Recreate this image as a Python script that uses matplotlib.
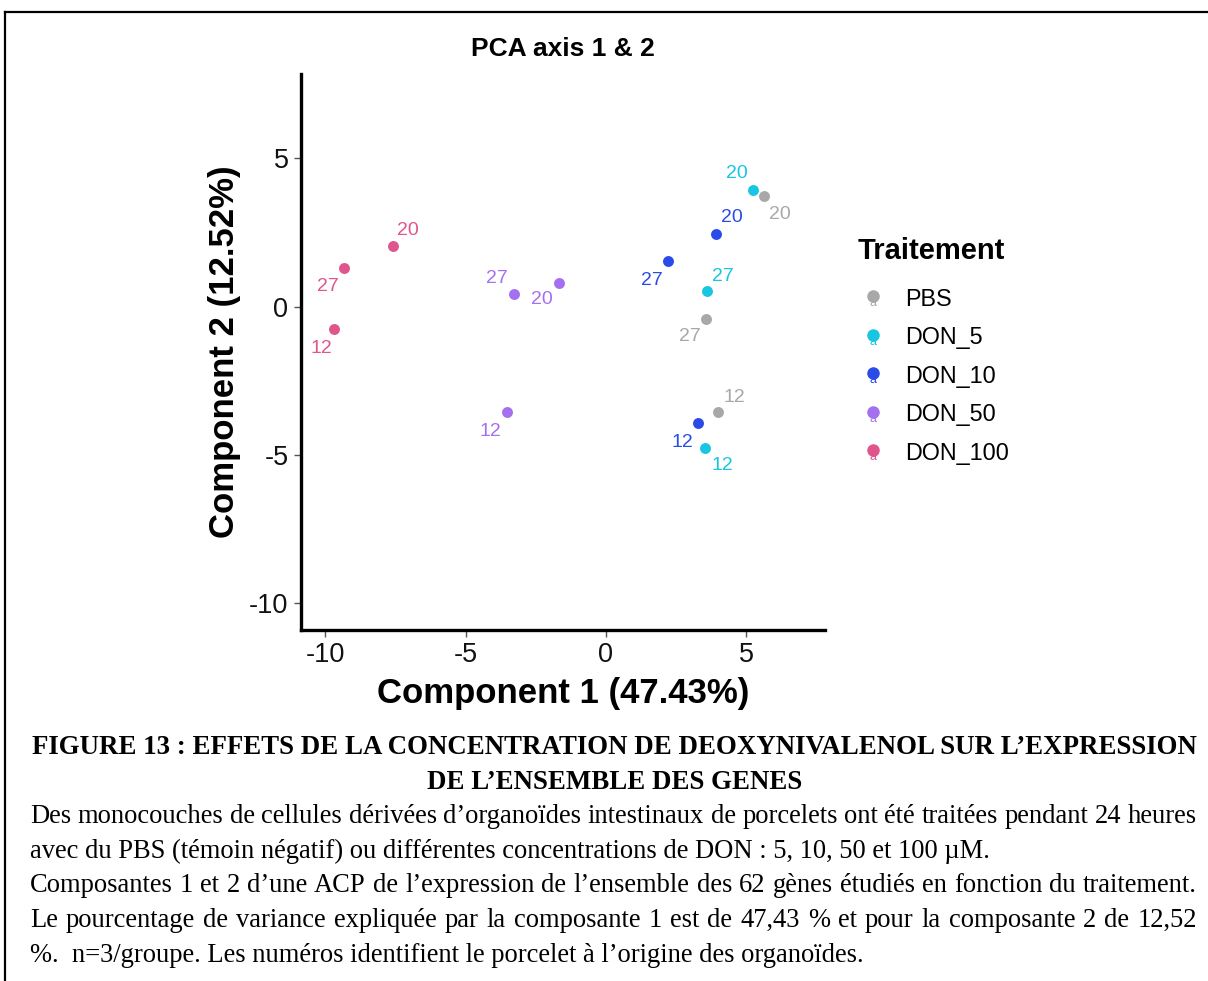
import matplotlib
matplotlib.use("Agg")
import matplotlib.pyplot as plt
from matplotlib.lines import Line2D
from matplotlib.text import Text
from matplotlib.legend_handler import HandlerBase

# ---------------- data ----------------
groups = ["PBS", "DON_5", "DON_10", "DON_50", "DON_100"]
piglets = ["12", "20", "27"]
pc1_pbs = [3.99, 5.62, 3.55]
pc2_pbs = [-3.56, 3.73, -0.41]
pc1_don5 = [3.53, 5.23, 3.60]
pc2_don5 = [-4.75, 3.94, 0.52]
pc1_don10 = [3.30, 3.91, 2.21]
pc2_don10 = [-3.93, 2.46, 1.53]
pc1_don50 = [-3.53, -1.69, -3.28]
pc2_don50 = [-3.56, 0.80, 0.44]
pc1_don100 = [-9.69, -7.58, -9.33]
pc2_don100 = [-0.76, 2.05, 1.30]
x_ticks = [-10, -5, 0, 5]
y_ticks = [-10, -5, 0, 5]

title = "PCA axis 1 & 2"
xlabel = "Component 1 (47.43%)"
ylabel = "Component 2 (12.52%)"
legend_title = "Traitement"

caption_head = ["FIGURE 13 : EFFETS DE LA CONCENTRATION DE DEOXYNIVALENOL SUR L\u2019EXPRESSION",
                "DE L\u2019ENSEMBLE DES GENES"]
caption_body = [
    ("Des monocouches de cellules d\u00e9riv\u00e9es d\u2019organo\u00efdes intestinaux de porcelets ont \u00e9t\u00e9 trait\u00e9es pendant 24 heures", True),
    ("avec du PBS (t\u00e9moin n\u00e9gatif) ou diff\u00e9rentes concentrations de DON : 5, 10, 50 et 100 \u00b5M.", False),
    ("Composantes 1 et 2 d\u2019une ACP de l\u2019expression de l\u2019ensemble des 62 g\u00e8nes \u00e9tudi\u00e9s en fonction du traitement.", True),
    ("Le pourcentage de variance expliqu\u00e9e par la composante 1 est de 47,43 % et pour la composante 2 de 12,52", True),
    ("%.  n=3/groupe. Les num\u00e9ros identifient le porcelet \u00e0 l\u2019origine des organo\u00efdes.", False),
]

series = {
    "PBS": (pc1_pbs, pc2_pbs),
    "DON_5": (pc1_don5, pc2_don5),
    "DON_10": (pc1_don10, pc2_don10),
    "DON_50": (pc1_don50, pc2_don50),
    "DON_100": (pc1_don100, pc2_don100),
}

# ---------------- style ----------------
colors = {"PBS": "#A8A8A8", "DON_5": "#18C6E2", "DON_10": "#2A4BE8",
          "DON_50": "#A470F0", "DON_100": "#E0558C"}
# label offsets in pixels (dx right, dy down) per group, per piglet (12, 20, 27)
label_off = {
    "PBS": [(17, -15), (16, 19), (-16, 18)],
    "DON_5": [(17, 18), (-16, -16), (16, -15)],
    "DON_10": [(-16, 19), (16, -16), (-16, 19)],
    "DON_50": [(-17, 19), (-17, 17), (-17, -15)],
    "DON_100": [(-13, 19), (15, -15), (-16, 18)],
}

W, H = 1208, 981
plt.rcParams["font.family"] = ["Liberation Sans", "DejaVu Sans"]
fig = plt.figure(figsize=(W / 100, H / 100), dpi=100)
fig.patch.set_facecolor("white")

ax = fig.add_axes([301 / W, 1 - 630 / H, (825 - 301) / W, (630 - 74) / H])
ax.set_xlim(-10.87, 7.81)
ax.set_ylim(-10.9, 7.84)

for g in groups:
    xs, ys = series[g]
    ax.scatter(xs, ys, s=62, color=colors[g], zorder=3, linewidths=0)
    for x, y, p, (dx, dy) in zip(xs, ys, piglets, label_off[g]):
        ax.annotate(p, (x, y), xytext=(dx * 0.72, -dy * 0.72), textcoords="offset points",
                    ha="center", va="center", fontsize=14, color=colors[g])

for s in ["top", "right"]:
    ax.spines[s].set_visible(False)
for s in ["left", "bottom"]:
    ax.spines[s].set_linewidth(2.4)
    ax.spines[s].set_color("black")
ax.set_xticks(x_ticks)
ax.set_yticks(y_ticks)
ax.set_xticklabels([str(v) for v in x_ticks])
ax.set_yticklabels([str(v) for v in y_ticks])
ax.tick_params(direction="out", length=5, width=1, color="#555555", labelsize=19.5,
               labelcolor="#111111", pad=4)
ax.set_xlabel(xlabel, fontsize=25, fontweight="bold", labelpad=6)
ax.set_ylabel(ylabel, fontsize=25, fontweight="bold", labelpad=6)
ax.set_title(title, fontsize=19, fontweight="bold", pad=13)


class HandlerDotA(HandlerBase):
    def create_artists(self, legend, orig_handle, xdescent, ydescent, width, height,
                       fontsize, trans):
        cx = width / 2 - xdescent
        cy = height / 2 - ydescent
        c = orig_handle.get_color()
        txt = Text(cx, cy - 4, "a", color=c, fontsize=9, ha="center", va="center",
                   transform=trans)
        dot = Line2D([cx], [cy + 1], marker="o", color=c, markersize=8,
                     linestyle="none", transform=trans)
        return [txt, dot]


fig.text(858 / W, 1 - 251 / H, legend_title, fontsize=21, fontweight="bold",
         ha="left", va="center")
handles = [Line2D([], [], color=colors[g]) for g in groups]
leg = fig.legend(handles, groups, loc="upper left",
                 bbox_to_anchor=(857 / W, 1 - 288 / H), frameon=False,
                 fontsize=16.8, handler_map={Line2D: HandlerDotA()}, handlelength=1.4,
                 handletextpad=0.65, labelspacing=0.66, borderpad=0, borderaxespad=0)

# ---------------- border ----------------
fig.add_artist(Line2D([5 / W, 1.0], [1 - 12 / H, 1 - 12 / H], color="black", lw=1.6,
                      transform=fig.transFigure))
fig.add_artist(Line2D([5 / W, 5 / W], [1 - 12 / H, 0.0], color="black", lw=1.6,
                      transform=fig.transFigure))

# ---------------- caption ----------------
serif = ["Liberation Serif", "DejaVu Serif"]
renderer = fig.canvas.get_renderer()
x_left, x_right = 30, 1197
head_base = [754, 789]
body_base = [823, 857.5, 892.5, 927, 962]
body_size = 19.1

for line, yb in zip(caption_head, head_base):
    fig.text(((x_left + x_right) / 2 + 1) / W, 1 - yb / H, line, family=serif,
             fontsize=19.4, fontweight="bold", ha="center", va="baseline")

for (line, just), yb in zip(caption_body, body_base):
    if not just:
        fig.text(x_left / W, 1 - yb / H, line, family=serif, fontsize=body_size,
                 ha="left", va="baseline")
        continue
    words = line.split(" ")
    arts = [fig.text(0, 1 - yb / H, w, family=serif, fontsize=body_size, ha="left",
                     va="baseline") for w in words]
    widths = [a.get_window_extent(renderer).width for a in arts]
    gap = ((x_right - x_left) - sum(widths)) / (len(words) - 1)
    x = x_left
    for a, w in zip(arts, widths):
        a.set_x(x / W)
        x += w + gap

fig.savefig("out.png", dpi=100, facecolor="white")
